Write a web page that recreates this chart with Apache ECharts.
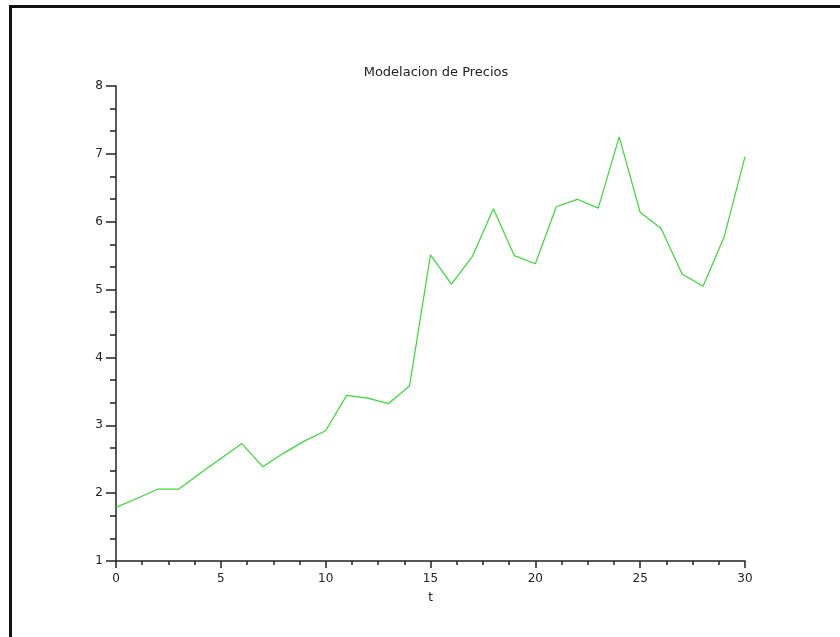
<!DOCTYPE html>
<html>
<head>
<meta charset="utf-8">
<script src="https://cdn.jsdelivr.net/npm/echarts@6/dist/echarts.min.js"></script>
<style>
  html, body { margin: 0; padding: 0; background: #fff; }
  #chart { width: 840px; height: 637px; }
</style>
</head>
<body>
<div id="chart"></div>
<script>
// Time steps and simulated price path
const tValues = [0, 1, 2, 3, 4, 5, 6, 7, 8, 9, 10, 11, 12, 13, 14, 15, 16, 17, 18, 19, 20, 21, 22, 23, 24, 25, 26, 27, 28, 29, 30];
const prices = [1.79, 1.92, 2.06, 2.06, 2.29, 2.51, 2.73, 2.39, 2.59, 2.77, 2.92, 3.44, 3.40, 3.32, 3.58, 5.51, 5.08, 5.49, 6.19, 5.50, 5.38, 6.22, 6.33, 6.20, 7.25, 6.14, 5.90, 5.23, 5.05, 5.77, 6.96];

const titleText = 'Modelacion de Precios';
const xName = 't';

const points = tValues.map((t, i) => [t, prices[i]]);

const chart = echarts.init(document.getElementById('chart'), null, { renderer: 'canvas' });
const font = 'DejaVu Sans, Liberation Sans, sans-serif';

chart.setOption({
  animation: false,
  backgroundColor: '#ffffff',
  title: {
    text: titleText,
    left: 431,
    textAlign: 'center',
    top: 61,
    textStyle: { fontFamily: font, fontSize: 13, fontWeight: 'normal', color: '#222' }
  },
  graphic: [
    { type: 'rect', shape: { x: 9, y: 5, width: 831, height: 3 }, style: { fill: '#111' } },
    { type: 'rect', shape: { x: 9, y: 5, width: 3, height: 632 }, style: { fill: '#111' } }
  ],
  grid: { left: 116, right: 95, top: 86, bottom: 76, containLabel: false },
  xAxis: {
    type: 'value',
    min: 0, max: 30, interval: 5,
    name: xName,
    nameLocation: 'middle',
    nameGap: 31,
    nameTextStyle: { fontFamily: font, fontSize: 12, color: '#222' },
    axisLine: { show: true, onZero: false, lineStyle: { color: '#222', width: 1.5 } },
    axisTick: { show: true, inside: false, length: 7, lineStyle: { color: '#222', width: 1.5 } },
    minorTick: { show: true, splitNumber: 4, length: 4, lineStyle: { color: '#222', width: 1.5 } },
    axisLabel: { margin: 12, fontFamily: font, fontSize: 12, color: '#222' },
    splitLine: { show: false }
  },
  yAxis: {
    type: 'value',
    min: 1, max: 8, interval: 1,
    axisLine: { show: true, onZero: false, lineStyle: { color: '#222', width: 1.5 } },
    axisTick: { show: true, inside: false, length: 10, lineStyle: { color: '#222', width: 1.5 } },
    minorTick: { show: true, splitNumber: 3, length: 6, lineStyle: { color: '#222', width: 1.5 } },
    axisLabel: { margin: 13, fontFamily: font, fontSize: 12, color: '#222' },
    splitLine: { show: false }
  },
  series: [{
    type: 'line',
    data: points,
    showSymbol: false,
    symbol: 'none',
    lineStyle: { color: '#33dd33', width: 1.2 }
  }]
});
</script>
</body>
</html>
